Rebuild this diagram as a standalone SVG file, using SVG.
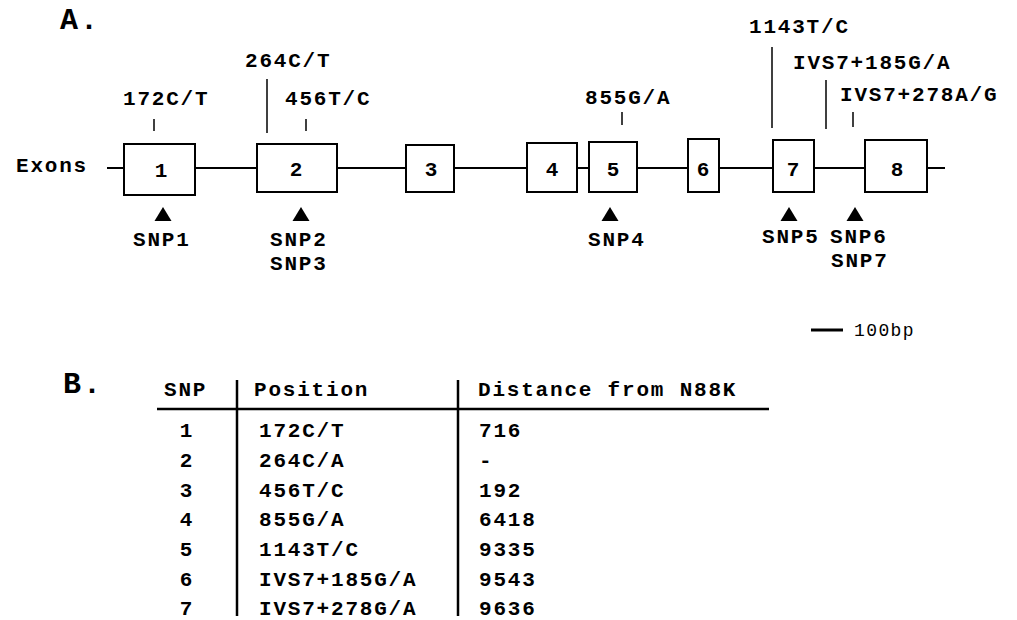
<svg xmlns="http://www.w3.org/2000/svg" width="1017" height="620" viewBox="0 0 1017 620">
<style>
text{font-family:"Liberation Mono","Courier New",monospace;font-weight:bold;fill:#000}
.t{font-size:21px;letter-spacing:1.8px}
.n{font-size:21px;text-anchor:middle}
.h{font-size:30px;letter-spacing:2px}
.s{font-size:18px;letter-spacing:1.4px;font-weight:normal}
.box{fill:#fff;stroke:#000;stroke-width:2}
.tick{stroke:#000;stroke-width:1.5}
.ln{stroke:#000;stroke-width:2.5;fill:none}
</style>
<rect width="1017" height="620" fill="#fff"/>
<text class="h" x="60" y="29">A.</text>
<text class="t" x="16" y="172">Exons</text>
<g id="connectors">
<line x1="107" y1="168" x2="945" y2="168" stroke="#000" stroke-width="2"/>
<line class="tick" x1="154" y1="119" x2="154" y2="131"/>
<line class="tick" x1="267" y1="79" x2="267" y2="133"/>
<line class="tick" x1="306" y1="119" x2="306" y2="131"/>
<line class="tick" x1="622" y1="112" x2="622" y2="125"/>
<line class="tick" x1="772" y1="47" x2="772" y2="128"/>
<line class="tick" x1="826" y1="80" x2="826" y2="129"/>
<line class="tick" x1="853" y1="112" x2="853" y2="127"/>
</g>
<g id="exon1"><rect class="box" x="124" y="144" width="71" height="51"/><text class="n" x="161" y="177">1</text></g>
<g id="exon2"><rect class="box" x="257" y="144" width="80" height="48"/><text class="n" x="296" y="176">2</text></g>
<g id="exon3"><rect class="box" x="406" y="145" width="48" height="47"/><text class="n" x="431" y="176">3</text></g>
<g id="exon4"><rect class="box" x="527" y="143" width="50" height="49"/><text class="n" x="552" y="176">4</text></g>
<g id="exon5"><rect class="box" x="589" y="142" width="48" height="50"/><text class="n" x="613" y="176">5</text></g>
<g id="exon6"><rect class="box" x="688" y="139" width="31" height="53"/><text class="n" x="703" y="176">6</text></g>
<g id="exon7"><rect class="box" x="773" y="140" width="41" height="52"/><text class="n" x="793" y="176">7</text></g>
<g id="exon8"><rect class="box" x="865" y="140" width="62" height="52"/><text class="n" x="897" y="176">8</text></g>
<g id="labels">
<text class="t" x="123" y="105">172C/T</text>
<text class="t" x="245" y="67">264C/T</text>
<text class="t" x="285" y="105">456T/C</text>
<text class="t" x="585" y="104">855G/A</text>
<text class="t" x="749" y="33">1143T/C</text>
<text class="t" x="793" y="69">IVS7+185G/A</text>
<text class="t" x="840" y="101">IVS7+278A/G</text>
</g>
<g id="snps">
<polygon points="163,207 171.5,221 154.5,221"/>
<polygon points="301,207 309.5,221 292.5,221"/>
<polygon points="610,207 618.5,221 601.5,221"/>
<polygon points="789,207 797.5,221 780.5,221"/>
<polygon points="855,207 863.5,221 846.5,221"/>
<text class="t" x="133" y="246">SNP1</text>
<text class="t" x="270" y="246">SNP2</text>
<text class="t" x="270" y="270">SNP3</text>
<text class="t" x="588" y="246">SNP4</text>
<text class="t" x="762" y="243">SNP5</text>
<text class="t" x="830" y="243">SNP6</text>
<text class="t" x="831" y="267">SNP7</text>
</g>
<g id="scale">
<line x1="811" y1="330" x2="843" y2="330" stroke="#000" stroke-width="3"/>
<text class="s" x="854" y="336">100bp</text>
</g>
<text class="h" x="63" y="393">B.</text>
<g id="table">
<line class="ln" x1="157" y1="409" x2="769" y2="409"/>
<line class="ln" x1="237" y1="380" x2="237" y2="616"/>
<line class="ln" x1="458" y1="380" x2="458" y2="616"/>
<text class="t" x="164" y="396">SNP</text>
<text class="t" x="254" y="396">Position</text>
<text class="t" x="478" y="396">Distance from N88K</text>
<text class="n" x="186" y="437">1</text>
<text class="n" x="186" y="467">2</text>
<text class="n" x="186" y="497">3</text>
<text class="n" x="186" y="526">4</text>
<text class="n" x="186" y="556">5</text>
<text class="n" x="186" y="586">6</text>
<text class="n" x="186" y="615">7</text>
<text class="t" x="259" y="437">172C/T</text>
<text class="t" x="259" y="467">264C/A</text>
<text class="t" x="259" y="497">456T/C</text>
<text class="t" x="259" y="526">855G/A</text>
<text class="t" x="259" y="556">1143T/C</text>
<text class="t" x="259" y="586">IVS7+185G/A</text>
<text class="t" x="259" y="615">IVS7+278G/A</text>
<text class="t" x="479" y="437">716</text>
<text class="t" x="479" y="467">-</text>
<text class="t" x="479" y="497">192</text>
<text class="t" x="479" y="526">6418</text>
<text class="t" x="479" y="556">9335</text>
<text class="t" x="479" y="586">9543</text>
<text class="t" x="479" y="615">9636</text>
</g>
</svg>
